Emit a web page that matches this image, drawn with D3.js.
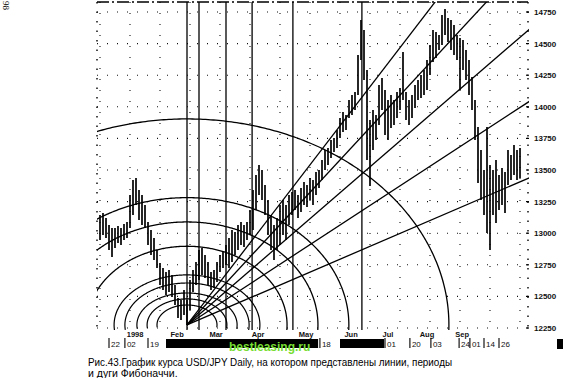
<!DOCTYPE html>
<html><head><meta charset="utf-8">
<script src="https://cdn.jsdelivr.net/npm/d3@7/dist/d3.min.js"></script>
<style>body{margin:0;background:#fff}svg{display:block}</style>
</head><body>
<script>
// ---- data ----
const highs=[13144,13160,13120,13065,13041,13041,13057,13041,13073,13089,
13302,13421,13437,13342,13302,13223,13089,13025,12962,12867,
12764,12725,12693,12709,12669,12590,12488,12472,12551,12472,
12630,12709,12772,12867,12883,12828,12772,12693,12709,12772,
12828,12851,12907,12962,13025,13010,13065,13089,13065,13089,
13184,13342,13461,13540,13500,13381,13263,13144,13065,13120,
13223,13263,13223,13302,13326,13342,13302,13358,13405,13381,
13437,13421,13484,13500,13579,13658,13674,13737,13753,13817,
13912,13959,13935,14054,14093,14117,14410,14687,14608,14291,
13896,13975,13935,14173,14228,14133,14054,14093,14054,14117,
14149,14434,14117,14054,14093,14173,14212,14252,14291,14370,
14489,14608,14592,14568,14726,14774,14703,14687,14647,14568,
14544,14529,14449,14370,14236,14054,13840,13658,13500,13840,
13540,13500,13579,13461,13516,13484,13658,13619,13698,13658,
13674];
const lows=[12946,12986,12962,12867,12812,12883,12923,12907,12946,12962,
13041,13144,13223,13105,13065,13041,12907,12828,12788,12725,
12590,12551,12511,12535,12495,12432,12329,12313,12353,12274,
12393,12535,12590,12630,12669,12646,12590,12551,12567,12614,
12693,12725,12749,12725,12772,12828,12867,12907,12891,12946,
12986,13025,13184,13302,13263,13144,12986,12867,12788,12867,
12907,12986,12946,13065,13144,13184,13120,13168,13223,13207,
13263,13223,13302,13358,13421,13500,13540,13595,13643,13674,
13753,13801,13817,13912,13935,13975,14093,14370,14212,13579,
13374,13658,13737,13856,13975,13777,13737,13832,13856,13912,
13975,14054,13896,13856,13912,13991,14054,14070,14093,14133,
14252,14355,14386,14449,14489,14568,14513,14449,14410,14370,
14133,14291,14212,14093,13975,13737,13398,13263,13144,13002,
12867,13144,13081,13184,13223,13160,13381,13421,13461,13421,
13437];
const yTicks=[12250,12500,12750,13000,13250,13500,13750,14000,14250,14500,14750];
const monthLabels=["1998","Feb","Mar","Apr","May","Jun","Jul","Aug","Sep"];
const monthIdx=[11.7,25.7,38.7,52.7,68.7,83.7,96,109,120.7];
const dayLabels=["22","02","19","18","01","20","03","24","01","14","26"];
const dayIdx=[3,8.3,16,73.3,95,103.3,110.3,119.7,123.3,128,133];
const maskedSpans=[[22,72.7],[80,94.7]];            // blacked-out label spans (bar index)
const fanSlopes=[30.9,25.6,20.5,15.5,10.2];          // price units per bar
const arcBase={bars:87.3,price:1630};
const arcRatios=[1,0.618,0.5,0.382];
const smallArcs=[[24.3,396],[20.7,332],[16.7,253],[13.3,206],[10,158]]; // [bars, price]
const timeZones=[0,4,13,21.7,35.3,58.3];             // bars after the low
const caption1="Рис.43.График курса USD/JPY Daily, на котором представлены линии, периоды";
const caption2="и дуги Фибоначчи.";

// ---- drawing ----
const W=567,H=378;
const svg=d3.select("body").append("svg").attr("width",W).attr("height",H);
svg.append("rect").attr("width",W).attr("height",H).attr("fill","#fff");
const P={l:97,r:528,t:2,b:330};
const x=d3.scaleLinear().domain([0,140]).range([100,520]);
const y=d3.scaleLinear().domain([12250,14750]).range([328,12]);
svg.append("defs").append("clipPath").attr("id","clip").append("rect")
  .attr("x",P.l).attr("y",P.t).attr("width",P.r-P.l+1).attr("height",P.b-P.t);

const g=svg.append("g");
// grid
g.selectAll(".hg").data(yTicks).join("line")
  .attr("x1",P.l).attr("x2",P.r).attr("y1",d=>y(d)).attr("y2",d=>y(d))
  .attr("stroke","#111").attr("stroke-width",1.1).attr("stroke-dasharray","1,9");
g.selectAll(".vg").data(d3.range(0,141,10)).join("line")
  .attr("x1",d=>x(d)).attr("x2",d=>x(d)).attr("y1",P.t).attr("y2",P.b)
  .attr("stroke","#111").attr("stroke-width",1.1).attr("stroke-dasharray","1,10");
// frame
g.append("line").attr("x1",P.l).attr("x2",P.r).attr("y1",P.t).attr("y2",P.t)
  .attr("stroke","#000").attr("stroke-width",1.3).attr("stroke-dasharray","12,3,2,3");
[P.l,P.r].forEach(v=>g.append("line").attr("x1",v).attr("x2",v).attr("y1",P.t).attr("y2",P.b)
  .attr("stroke","#000").attr("stroke-width",1.4).attr("stroke-dasharray","1.5,8"));
// right ticks + labels
g.selectAll(".rt").data(yTicks).join("line")
  .attr("x1",P.r-2).attr("x2",P.r+1).attr("y1",d=>y(d)).attr("y2",d=>y(d))
  .attr("stroke","#000").attr("stroke-width",1.2);
g.selectAll(".yl").data(yTicks).join("text")
  .attr("x",534).attr("y",d=>y(d)+3).text(d=>d)
  .attr("font-family","Liberation Sans, Arial, sans-serif").attr("font-size",8).attr("font-weight","bold")
  .attr("fill","#111");

const c=svg.append("g").attr("clip-path","url(#clip)");
const o=d3.minIndex(lows), p0=lows[o];
// time zones
c.selectAll(".tz").data(timeZones).join("line")
  .attr("x1",d=>x(o+d)).attr("x2",d=>x(o+d)).attr("y1",P.t).attr("y2",P.b)
  .attr("stroke","#000").attr("stroke-width",1.3);
// arcs
const line=d3.line().x(d=>x(d[0])).y(d=>y(d[1]));
function arcPts(rb,rp){return d3.range(-0.12,Math.PI+0.12,0.01).map(t=>[o+rb*Math.cos(t),p0+rp*Math.sin(t)]);}
c.selectAll(".arc").data(arcRatios).join("path")
  .attr("d",r=>line(arcPts(arcBase.bars*r,arcBase.price*r)))
  .attr("fill","none").attr("stroke","#000").attr("stroke-width",1.3);
c.selectAll(".sarc").data(smallArcs).join("path")
  .attr("d",d=>line(arcPts(d[0],d[1])))
  .attr("fill","none").attr("stroke","#000").attr("stroke-width",1.2);
// fan lines
c.selectAll(".fan").data(fanSlopes).join("line")
  .attr("x1",x(o)).attr("y1",y(p0)).attr("x2",x(o+300)).attr("y2",s=>y(p0+s*300))
  .attr("stroke","#000").attr("stroke-width",1.3);
// price bars
c.selectAll(".bar").data(highs).join("line")
  .attr("x1",(d,i)=>x(i)).attr("x2",(d,i)=>x(i)).attr("y1",d=>y(d)).attr("y2",(d,i)=>y(lows[i]))
  .attr("stroke","#000").attr("stroke-width",1.7);

// x labels
const f="Liberation Sans, Arial, sans-serif";
svg.selectAll(".ml").data(monthLabels).join("text")
  .attr("x",(d,i)=>x(monthIdx[i])).attr("y",337).attr("text-anchor","middle").text(d=>d)
  .attr("font-family",f).attr("font-size",7.5).attr("font-weight","bold").attr("fill","#111");
svg.selectAll(".dt").data(dayIdx).join("line")
  .attr("x1",d=>x(d)).attr("x2",d=>x(d)).attr("y1",338).attr("y2",348)
  .attr("stroke","#000").attr("stroke-width",1.1);
svg.selectAll(".dl").data(dayLabels).join("text")
  .attr("x",(d,i)=>x(dayIdx[i])+2).attr("y",347).text(d=>d)
  .attr("font-family",f).attr("font-size",8).attr("fill","#111");
svg.selectAll(".mask").data(maskedSpans).join("rect")
  .attr("x",d=>x(d[0])).attr("width",d=>x(d[1])-x(d[0])).attr("y",339).attr("height",9).attr("fill","#000");
svg.append("rect").attr("x",557).attr("y",339).attr("width",6).attr("height",10).attr("fill","#000");
// watermark
svg.append("text").attr("x",229).attr("y",351).text("bestleasing.ru")
  .attr("font-family","Liberation Sans, Arial, sans-serif").attr("font-weight","bold").attr("font-size",12)
  .attr("fill","#77dd33");
// caption
svg.append("text").attr("x",88).attr("y",366).text(caption1)
  .attr("font-family",f).attr("font-size",10.5).attr("textLength",364).attr("lengthAdjust","spacingAndGlyphs").attr("fill","#000");
svg.append("text").attr("x",88).attr("y",376.5).text(caption2)
  .attr("font-family",f).attr("font-size",10.5).attr("fill","#000");
// page number
svg.append("text").attr("transform","translate(3,1) rotate(90)").text("98")
  .attr("font-family","Liberation Serif, serif").attr("font-size",9).attr("fill","#000");
</script>
</body></html>
